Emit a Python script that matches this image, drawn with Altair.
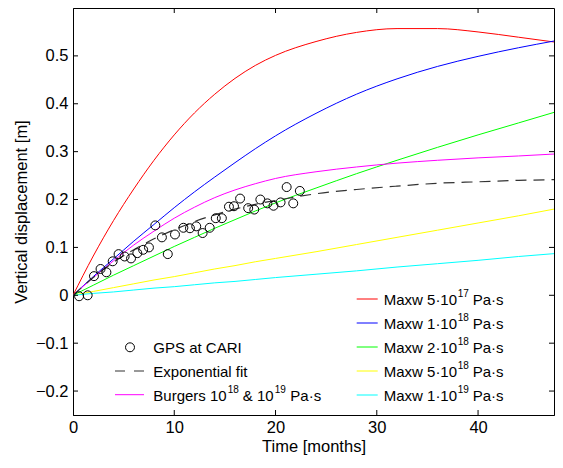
import altair as alt
import pandas as pd

# ---------------- data ----------------
t_curve = [0, 2, 4, 6, 8, 10, 12, 14, 16, 18, 20, 24, 28, 32, 36, 40, 44, 47.5]
maxw_5e17 = [0, 0.082, 0.156, 0.222, 0.282, 0.335, 0.381, 0.420, 0.453, 0.480, 0.501, 0.530, 0.549, 0.557, 0.557, 0.550, 0.539, 0.529]
maxw_1e18 = [0, 0.039, 0.076, 0.113, 0.148, 0.183, 0.216, 0.247, 0.277, 0.306, 0.333, 0.380, 0.420, 0.452, 0.478, 0.499, 0.517, 0.531]
maxw_2e18 = [0, 0.021, 0.042, 0.062, 0.082, 0.102, 0.121, 0.140, 0.158, 0.176, 0.193, 0.224, 0.254, 0.282, 0.309, 0.335, 0.360, 0.382]
maxw_5e18 = [0, 0.008, 0.016, 0.024, 0.032, 0.039, 0.047, 0.055, 0.062, 0.070, 0.077, 0.091, 0.106, 0.121, 0.136, 0.151, 0.166, 0.180]
maxw_1e19 = [0, 0.004, 0.007, 0.011, 0.015, 0.018, 0.022, 0.026, 0.029, 0.033, 0.037, 0.044, 0.051, 0.059, 0.066, 0.073, 0.081, 0.087]
burgers = [0, 0.037, 0.072, 0.105, 0.134, 0.161, 0.184, 0.204, 0.220, 0.233, 0.244, 0.258, 0.268, 0.276, 0.282, 0.287, 0.291, 0.295]
exp_fit = [0, 0.037, 0.069, 0.095, 0.118, 0.137, 0.154, 0.168, 0.180, 0.190, 0.198, 0.212, 0.221, 0.228, 0.234, 0.237, 0.240, 0.2415]

gps_t = [0.6, 1.45, 2.07, 2.72, 3.3, 3.92, 4.5, 5.1, 5.73, 6.35, 6.93, 7.5, 8.13, 8.78, 9.36,
         10.07, 10.9, 11.55, 12.17, 12.8, 13.5, 14.1, 14.7, 15.4, 15.9, 16.5, 17.3, 17.9,
         18.5, 19.2, 19.8, 20.5, 21.1, 21.75, 22.4]
gps_v = [-0.002, 0.0, 0.040, 0.055, 0.048, 0.071, 0.086, 0.081, 0.077, 0.088, 0.095, 0.100, 0.146, 0.121, 0.086,
         0.127, 0.141, 0.140, 0.144, 0.130, 0.141, 0.161, 0.161, 0.185, 0.186, 0.202, 0.182, 0.179,
         0.200, 0.192, 0.187, 0.194, 0.226, 0.192, 0.218]

series_names = ["Maxw 5e17", "Maxw 1e18", "Maxw 2e18", "Maxw 5e18", "Maxw 1e19"]
series_colors = ["#ff0000", "#0000ff", "#00ff00", "#ffff00", "#00ffff"]
maxw_main = ["Maxw 5·10", "Maxw 1·10", "Maxw 2·10", "Maxw 5·10", "Maxw 1·10"]
maxw_sup = ["17", "18", "18", "18", "19"]

x_ticks = [0, 10, 20, 30, 40]
y_ticks = [-0.2, -0.1, 0, 0.1, 0.2, 0.3, 0.4, 0.5]

# ---------------- chart ----------------
W, H = 481, 407
FONT = "Liberation Sans"

xs = alt.Scale(domain=[0, 47.5], nice=False, zero=False)
ys = alt.Scale(domain=[-0.25, 0.6], nice=False, zero=False)

x_axis = alt.Axis(values=x_ticks, title="Time [months]", labelPadding=4, titlePadding=3,
                  labelFlush=False, ticks=False, grid=False)
y_axis = alt.Axis(values=y_ticks, title="Vertical displacement [m]", format="~g", labelPadding=5,
                  titlePadding=6, labelFlush=False, ticks=False, grid=False)

X = alt.X("t:Q", scale=xs, axis=x_axis)
Y = alt.Y("v:Q", scale=ys, axis=y_axis)

rows = []
for name, vals in zip(series_names, [maxw_5e17, maxw_1e18, maxw_2e18, maxw_5e18, maxw_1e19]):
    for t, v in zip(t_curve, vals):
        rows.append({"t": t, "v": v, "s": name})
curves_df = pd.DataFrame(rows)

curves = alt.Chart(curves_df).mark_line(strokeWidth=1, interpolate="monotone", clip=True).encode(
    x=X, y=Y,
    color=alt.Color("s:N", scale=alt.Scale(domain=series_names, range=series_colors), legend=None),
    detail="s:N",
)

burg = alt.Chart(pd.DataFrame({"t": t_curve, "v": burgers})).mark_line(
    strokeWidth=1, interpolate="monotone", color="#ff00ff", clip=True).encode(x=X, y=Y)

fit = alt.Chart(pd.DataFrame({"t": t_curve, "v": exp_fit})).mark_line(
    strokeWidth=1.2, interpolate="monotone", color="#333333", strokeDash=[11, 7], clip=True).encode(x=X, y=Y)

gps = alt.Chart(pd.DataFrame({"t": gps_t, "v": gps_v})).mark_point(
    shape="circle", size=80, filled=False, color="black", strokeWidth=1, opacity=1).encode(x=X, y=Y)

# inward ticks on all four sides
TL = 5
xt_df = pd.DataFrame({"t": x_ticks[1:]})
yt_df = pd.DataFrame({"v": y_ticks})
ticks_bottom = alt.Chart(xt_df).mark_rule(color="black", strokeWidth=1).encode(
    x=X, y=alt.value(H), y2=alt.value(H - TL))
ticks_top = alt.Chart(xt_df).mark_rule(color="black", strokeWidth=1).encode(
    x=X, y=alt.value(0), y2=alt.value(TL))
ticks_left = alt.Chart(yt_df).mark_rule(color="black", strokeWidth=1).encode(
    y=Y, x=alt.value(0), x2=alt.value(TL))
ticks_right = alt.Chart(yt_df).mark_rule(color="black", strokeWidth=1).encode(
    y=Y, x=alt.value(W - TL), x2=alt.value(W))

# ---------------- legends ----------------
one = pd.DataFrame({"a": [0]})


def lrule(x1, x2, y, color, dash=None, width=1):
    kw = dict(color=color, strokeWidth=width)
    if dash:
        kw["strokeDash"] = dash
    return alt.Chart(one).mark_rule(**kw).encode(x=alt.value(x1), x2=alt.value(x2), y=alt.value(y))


def ltext(x, y, s, size=15):
    return alt.Chart(one).mark_text(align="left", baseline="middle", font=FONT, fontSize=size,
                                    color="black").encode(x=alt.value(x), y=alt.value(y), text=alt.value(s))


legend_layers = []
# right legend (Maxwell models)
rx = 283.7
for i in range(5):
    ry = 291.0 + 24.0 * i
    legend_layers.append(lrule(rx, rx + 21, ry, series_colors[i]))
    legend_layers.append(ltext(rx + 27, ry + 1, maxw_main[i]))
    legend_layers.append(ltext(rx + 27 + 74, ry - 5.5, maxw_sup[i], size=10))
    legend_layers.append(ltext(rx + 27 + 89, ry + 1, "Pa·s"))

# left legend
lx = 80.3
ly = [339.3, 363.0, 386.7]
legend_layers.append(alt.Chart(one).mark_point(shape="circle", size=80, filled=False, color="black",
                                                strokeWidth=1, opacity=1).encode(
    x=alt.value(57), y=alt.value(ly[0])))
legend_layers.append(ltext(lx, ly[0] + 1, "GPS at CARI"))
legend_layers.append(lrule(42, 71, ly[1], "#333333", dash=[10, 9], width=1.2))
legend_layers.append(ltext(lx, ly[1] + 1, "Exponential fit"))
legend_layers.append(lrule(42, 71, ly[2], "#ff00ff"))
legend_layers.append(ltext(lx, ly[2] + 1, "Burgers 10"))
legend_layers.append(ltext(lx + 74.5, ly[2] - 5, "18", size=10))
legend_layers.append(ltext(lx + 89.5, ly[2] + 1, "& 10"))
legend_layers.append(ltext(lx + 121.5, ly[2] - 5, "19", size=10))
legend_layers.append(ltext(lx + 137, ly[2] + 1, "Pa·s"))

chart = alt.layer(
    curves, burg, fit, gps, ticks_bottom, ticks_top, ticks_left, ticks_right, *legend_layers
).properties(
    width=W, height=H,
    autosize=alt.AutoSizeParams(type="none"),
    padding={"left": 65, "top": 0, "right": 1, "bottom": 43},
).configure_view(
    stroke="black", strokeWidth=1
).configure_axis(
    domainColor="black", domainWidth=1, labelColor="black", titleColor="black",
    labelFont=FONT, titleFont=FONT, labelFontSize=16.5, titleFontSize=16.5,
    titleFontWeight="normal", tickSize=0,
)

chart.save("out.html", embed_options={"renderer": "svg", "actions": False})
